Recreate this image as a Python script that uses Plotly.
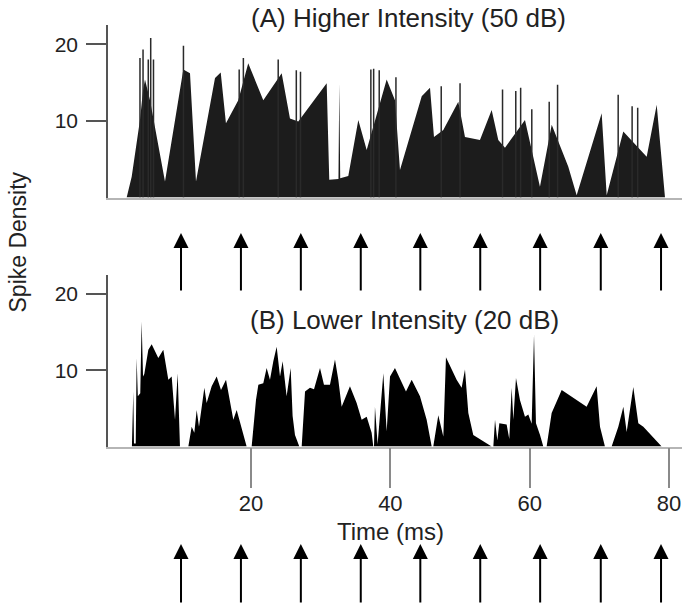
import plotly.graph_objects as go

# ---------------- data ----------------
# Panel A (50 dB): spike-density envelope
time_a = [0, 2.15, 2.87, 4.06, 4.5, 4.78, 5.5, 7.65, 10.28, 11.24, 12.1, 14.83, 15.65, 16.4,
          18.17, 19.6, 21.76, 24.4, 25.59, 26.78, 30.86, 31.23, 32.55, 32.67, 32.8, 33.96,
          35.4, 36.6, 39.47, 40.66, 41.38, 44.5, 45.69, 46.26, 47.6, 49.75, 50.71, 52.86,
          54.54, 55.49, 56.45, 59.32, 61.47, 63.16, 65.54, 66.74, 70.33, 71.05, 73.43,
          76.79, 78.23, 79.42, 80]
dens_a = [0, 0, 2.7, 10.1, 14.0, 15.4, 12.7, 2.1, 16.7, 16.2, 2.1, 15.6, 16.3, 9.7,
          12.7, 17.5, 12.7, 16.2, 10.3, 9.9, 14.9, 2.3, 2.4, 14.9, 2.5, 2.8,
          10.1, 6.2, 15.4, 12.7, 3.6, 13.2, 14.3, 7.9, 8.8, 12.5, 7.9, 7.5,
          11.4, 7.5, 6.5, 10.1, 1.4, 9.5, 4.0, 0.3, 11.0, 0.3, 8.6,
          5.3, 12.1, 0, 0]

# Panel A: single-spike transients (time, peak)
spike_time_a = [4.06, 4.5, 5.25, 5.6, 6.0, 10.3, 18.3, 18.9, 23.9, 26.5, 27.1, 37.2, 37.6,
                38.4, 40.8, 47.3, 50.0, 56.1, 58.0, 58.7, 60.3, 62.8, 64.0, 72.7, 74.7, 75.5]
spike_peak_a = [18.2, 19.3, 18.0, 20.8, 18.0, 19.8, 16.7, 18.2, 18.0, 16.6, 16.4, 16.7, 16.8,
                16.6, 15.7, 14.5, 14.9, 14.1, 13.9, 14.3, 11.5, 12.5, 14.7, 13.4, 11.9, 11.7]

# Panel B (20 dB): spike-density envelope
time_b = [0, 2.9, 3.1, 3.2, 3.45, 3.58, 3.75, 4.1, 4.3, 4.5, 4.68, 5.26, 5.74, 6.69, 7.41,
          8.13, 8.61, 9.09, 9.47, 9.8,
          11.0, 11.48, 11.86, 12.2, 12.53, 13.3, 13.63, 14.35, 15.07, 15.69, 16.41, 16.98,
          17.46, 17.94, 18.66, 19.37,
          20.09, 20.42, 20.71, 21.05, 21.76, 22.24, 22.72, 23.2, 23.68, 24.16, 24.54, 25.11,
          25.69, 25.97, 26.31, 26.93,
          27.27, 27.75, 28.46, 29.04, 29.9, 30.47, 31.33, 32.05, 32.53, 33.01, 34.2, 35.16,
          35.88, 36.6, 37.31, 37.55,
          37.65, 37.79, 38.17, 38.99, 39.47, 39.95, 40.66, 42.24, 43.06, 44.25, 45.21, 45.93,
          46.16, 46.88, 47.6, 47.98, 49.51, 50.23, 50.71, 51.19, 51.9, 54.54,
          54.78, 55.02, 55.35, 55.64, 56.69, 57.07, 57.41, 57.65, 58.03, 58.6, 59.32, 59.8,
          60.28, 60.62, 60.9, 61.48, 61.95,
          62.43, 63.15, 64.59, 68.17, 69.61, 70.09, 70.8,
          71.76, 72.72, 73.44, 73.92, 74.87, 75.59, 76.31, 78.94, 80]
dens_b = [0, 0, 7.2, 0.4, 0.4, 11.6, 6.6, 7.0, 16.4, 9.2, 9.5, 12.7, 13.4, 11.6, 12.7,
          8.75, 9.2, 3.5, 9.6, 0,
          0, 2.6, 1.8, 4.8, 2.6, 7.7, 5.7, 7.9, 9.2, 7.4, 8.75, 6.1,
          3.5, 4.8, 2.2, 0,
          0, 3.5, 6.1, 8.1, 8.3, 10.3, 8.75, 11.2, 13.1, 9.2, 11.2, 6.6,
          10.3, 4.0, 1.5, 0,
          0, 7.2, 7.7, 7.5, 10.3, 8.1, 8.1, 11.4, 8.75, 5.2, 7.9, 5.7,
          3.5, 3.9, 1.8, 0,
          0, 5.2, 0.3, 9.6, 2.0, 9.2, 10.3, 7.2, 8.75, 6.6, 3.5, 0,
          0, 4.1, 1.3, 11.7, 8.75, 7.7, 10.1, 4.4, 1.5, 0,
          0, 3.5, 0.8, 3.05, 2.9, 1.0, 7.7, 3.5, 9.0, 6.1, 3.9, 4.2,
          3.0, 14.7, 3.05, 1.5, 0,
          0, 4.4, 7.4, 5.2, 7.9, 2.6, 0,
          0, 2.6, 5.2, 1.9, 7.8, 3.05, 2.6, 0, 0]

# stimulus onsets (ms), marked with arrows
stim_times = [9.95, 18.55, 27.15, 35.75, 44.3, 52.9, 61.5, 70.2, 78.85]

x_ticks = [20, 40, 60, 80]
x_tick_labels = ["20", "40", "60", "80"]
y_ticks = [10, 20]
y_tick_labels = ["10", "20"]

title_a = "(A) Higher Intensity (50 dB)"
title_b = "(B) Lower Intensity (20 dB)"

# ---------------- figure ----------------
W, H = 682, 604
FONT = "Liberation Sans, Arial, Helvetica, sans-serif"

def py(p):  # pixel-from-top -> paper y
    return 1 - p / H

fig = go.Figure()

fig.add_trace(go.Scatter(x=time_a, y=dens_a, mode="lines", fill="tozeroy",
                         fillcolor="#1c1c1c", line=dict(width=0, color="#1c1c1c"),
                         xaxis="x", yaxis="y", hoverinfo="skip"))

sx, sy = [], []
for t, h in zip(spike_time_a, spike_peak_a):
    sx += [t, t, None]
    sy += [0, h, None]
fig.add_trace(go.Scatter(x=sx, y=sy, mode="lines", line=dict(width=1.5, color="#2a2a2a"),
                         xaxis="x", yaxis="y", hoverinfo="skip"))

fig.add_trace(go.Scatter(x=time_b, y=dens_b, mode="lines", fill="tozeroy",
                         fillcolor="#000000", line=dict(width=0, color="#000000"),
                         xaxis="x2", yaxis="y2", hoverinfo="skip"))

xdom = [108 / W, 1]
xr = [-0.53, 81.86]
yr = [0, 22.5]

common_y = dict(range=yr, showline=True, linecolor="#555555", linewidth=1.5,
                ticks="outside", ticklen=20, tickwidth=1.5, tickcolor="#555555",
                tickvals=y_ticks, ticktext=y_tick_labels, showgrid=False, zeroline=False,
                tickfont=dict(family=FONT, size=21, color="#222222"),
                ticklabelstandoff=4)

fig.update_layout(
    width=W, height=H, margin=dict(l=0, r=0, t=0, b=0),
    plot_bgcolor="white", paper_bgcolor="white", showlegend=False,
    font=dict(family=FONT, color="#222222"),
    xaxis=dict(domain=xdom, range=xr, anchor="y", showline=True, linecolor="#b5b5b5",
               linewidth=1.5, showticklabels=False, ticks="", showgrid=False, zeroline=False),
    xaxis2=dict(domain=xdom, range=xr, anchor="y2", showline=True, linecolor="#b5b5b5",
                linewidth=1.5, ticks="outside", ticklen=40, tickwidth=1.5, tickcolor="#8a8a8a",
                tickvals=x_ticks, ticktext=x_tick_labels, showgrid=False, zeroline=False,
                tickfont=dict(family=FONT, size=22, color="#222222"), ticklabelstandoff=-4),
    yaxis=dict(domain=[py(197.5), py(25)], anchor="x", **common_y),
    yaxis2=dict(domain=[py(446.5), py(275)], anchor="x2", **common_y),
)

ann = []
ann.append(dict(text=title_a, xref="paper", yref="paper", x=408.5 / W, y=py(18),
                xanchor="center", yanchor="middle", showarrow=False,
                font=dict(family=FONT, size=26, color="#222222")))
ann.append(dict(text=title_b, xref="paper", yref="paper", x=404.5 / W, y=py(320),
                xanchor="center", yanchor="middle", showarrow=False,
                font=dict(family=FONT, size=26, color="#222222")))
ann.append(dict(text="Spike Density", xref="paper", yref="paper", x=17 / W, y=py(242.5),
                xanchor="center", yanchor="middle", showarrow=False, textangle=-90,
                font=dict(family=FONT, size=23, color="#222222")))
ann.append(dict(text="Time (ms)", xref="x2", yref="paper", x=40, y=py(531),
                xanchor="center", yanchor="middle", showarrow=False,
                font=dict(family=FONT, size=24, color="#222222")))

for t in stim_times:
    ann.append(dict(text="", xref="x", yref="paper", x=t, y=py(233), ax=0, ay=59,
                    axref="pixel", ayref="pixel", showarrow=True, arrowhead=2,
                    arrowsize=1.5, arrowwidth=2, arrowcolor="#000000", standoff=0))
    ann.append(dict(text="", xref="x2", yref="paper", x=t, y=py(544), ax=0, ay=75,
                    axref="pixel", ayref="pixel", showarrow=True, arrowhead=2,
                    arrowsize=1.5, arrowwidth=2, arrowcolor="#000000", standoff=0))

fig.update_layout(annotations=ann)

fig.write_html("out.html")
